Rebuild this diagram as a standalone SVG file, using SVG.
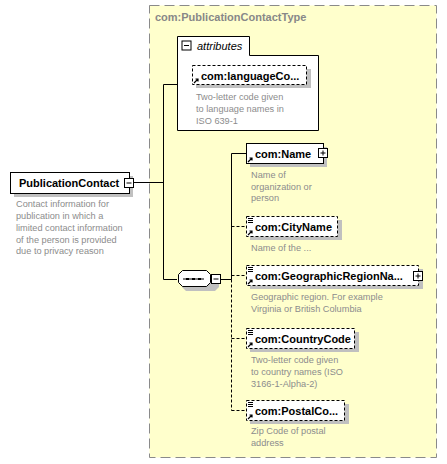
<svg xmlns="http://www.w3.org/2000/svg" width="447" height="464" viewBox="0 0 447 464">
<style>
.nm{font-family:"Liberation Sans",Arial,sans-serif;font-weight:bold;font-size:11px;fill:#000}
.ds{font-family:"Liberation Sans",Arial,sans-serif;font-size:9.2px;fill:#8c8c8c}
.box{fill:#fff;stroke:#000;stroke-width:1}
.opt{fill:#fff;stroke:#000;stroke-width:1;stroke-dasharray:3,2}
.sh{fill:#c0c0c0}
.ln{stroke:#000;stroke-width:1;fill:none}
.dl{stroke:#000;stroke-width:1;fill:none;stroke-dasharray:3,2}
.pm{fill:#fff;stroke:#000;stroke-width:1}
</style>
<defs>
<g id="arr"><path d="M0,5 L4,1 M1.5,1 L4,1 L4,3.5" stroke="#000" stroke-width="1.2" fill="none"/></g>
<g id="lst"><path d="M0,0.5 H5 M0,2.5 H5 M0,4.5 H5" stroke="#000" stroke-width="1"/></g>
<g id="plus"><rect class="pm" x="0" y="0" width="9" height="9"/><path d="M2,4.5 H7 M4.5,2 V7" stroke="#000" stroke-width="1"/></g>
<g id="minus"><rect class="pm" x="0" y="0" width="9" height="9"/><path d="M2,4.5 H7" stroke="#000" stroke-width="1"/></g>
</defs>

<g id="type">
<rect x="149.5" y="5.5" width="287" height="452" fill="#ffffcc" stroke="#8a8a8a" stroke-width="1" stroke-dasharray="10,5"/>
<text x="155" y="21" font-family="Liberation Sans,Arial,sans-serif" font-weight="bold" font-size="11" fill="#888">com:PublicationContactType</text>
</g>

<g id="connectors">
<path class="ln" d="M134,182.5 H163.5 M163.5,84.5 V279.5 M163.5,84.5 H177 M163.5,279.5 H177"/>
<path class="ln" d="M221,279.5 H231.5 M231.5,153.5 V279.5 M231.5,153.5 H246"/>
<path class="dl" d="M231.5,279.5 V410.5 M231.5,226.5 H246 M231.5,275.5 H246 M231.5,338.5 H246 M231.5,410.5 H246"/>
</g>

<g id="attributes">
<path d="M177.5,36.5 H249.5 V55.5 H318.5 V130.5 H177.5 Z" fill="#fff" stroke="#000"/>
<use href="#minus" x="182" y="41"/>
<text x="197" y="50" font-family="Liberation Sans,Arial,sans-serif" font-style="italic" font-size="11" fill="#000">attributes</text>
</g>

<g id="languageCode">
<rect class="sh" x="196" y="69" width="115" height="19"/>
<rect class="opt" x="192.5" y="65.5" width="114" height="19"/>
<use href="#arr" x="194" y="78"/>
<text class="nm" x="201" y="80">com:languageCo...</text>
<text class="ds"><tspan x="196" y="100">Two-letter code given</tspan><tspan x="196" y="112">to language names in</tspan><tspan x="196" y="124">ISO 639-1</tspan></text>
</g>

<g id="PublicationContact">
<rect class="sh" x="14" y="176" width="119" height="21"/>
<rect class="box" x="10.5" y="172.5" width="119" height="21"/>
<text class="nm" x="19" y="187">PublicationContact</text>
<use href="#minus" x="124.5" y="178.5"/>
<text class="ds"><tspan x="16" y="207">Contact information for</tspan><tspan x="16" y="219">publication in which a</tspan><tspan x="16" y="231">limited contact information</tspan><tspan x="16" y="243">of the person is provided</tspan><tspan x="16" y="254">due to privacy reason</tspan></text>
</g>

<g id="sequence">
<path d="M186,275 H215 L219,279 V287 L215,291 H186 L182,287 V279 Z" fill="#c0c0c0"/>
<path d="M182.5,270.5 H206.5 L210.5,274.5 V282.5 L206.5,286.5 H182.5 L178.5,282.5 V274.5 Z" fill="#fff" stroke="#000"/>
<path d="M183,279 H204" stroke="#000" stroke-width="1"/>
<rect x="186" y="278" width="3" height="2" fill="#000"/><rect x="192" y="278" width="3" height="2" fill="#000"/><rect x="198" y="278" width="3" height="2" fill="#000"/>
<use href="#minus" x="211.5" y="274.5"/>
</g>

<g id="Name">
<rect class="sh" x="250" y="147" width="77" height="20"/>
<rect class="box" x="246.5" y="143.5" width="77" height="20"/>
<use href="#arr" x="248" y="157"/>
<text class="nm" x="255" y="158">com:Name</text>
<use href="#plus" x="318.5" y="148.5"/>
<text class="ds"><tspan x="251" y="178">Name of</tspan><tspan x="251" y="190">organization or</tspan><tspan x="251" y="201">person</tspan></text>
</g>

<g id="CityName">
<rect class="sh" x="250" y="220" width="92" height="20"/>
<rect class="opt" x="246.5" y="216.5" width="91" height="20"/>
<use href="#lst" x="248" y="218"/>
<use href="#arr" x="248" y="230"/>
<text class="nm" x="255" y="231">com:CityName</text>
<text class="ds" x="251" y="251">Name of the ...</text>
</g>

<g id="GeographicRegionName">
<rect class="sh" x="250" y="269" width="173" height="20"/>
<rect class="opt" x="246.5" y="265.5" width="172" height="20"/>
<use href="#lst" x="248" y="267"/>
<use href="#arr" x="248" y="279"/>
<text class="nm" x="255" y="280">com:GeographicRegionNa...</text>
<use href="#plus" x="413.5" y="271.5"/>
<text class="ds"><tspan x="251" y="300">Geographic region. For example</tspan><tspan x="251" y="312">Virginia or British Columbia</tspan></text>
</g>

<g id="CountryCode">
<rect class="sh" x="250" y="332" width="109" height="20"/>
<rect class="opt" x="246.5" y="328.5" width="108" height="20"/>
<use href="#lst" x="248" y="330"/>
<use href="#arr" x="248" y="342"/>
<text class="nm" x="255" y="343">com:CountryCode</text>
<text class="ds"><tspan x="251" y="363">Two-letter code given</tspan><tspan x="251" y="375">to country names (ISO</tspan><tspan x="251" y="387">3166-1-Alpha-2)</tspan></text>
</g>

<g id="PostalCode">
<rect class="sh" x="250" y="404" width="99" height="20"/>
<rect class="opt" x="246.5" y="400.5" width="98" height="20"/>
<use href="#lst" x="248" y="402"/>
<use href="#arr" x="248" y="414"/>
<text class="nm" x="255" y="415">com:PostalCo...</text>
<text class="ds"><tspan x="251" y="434">Zip Code of postal</tspan><tspan x="251" y="446">address</tspan></text>
</g>
</svg>
